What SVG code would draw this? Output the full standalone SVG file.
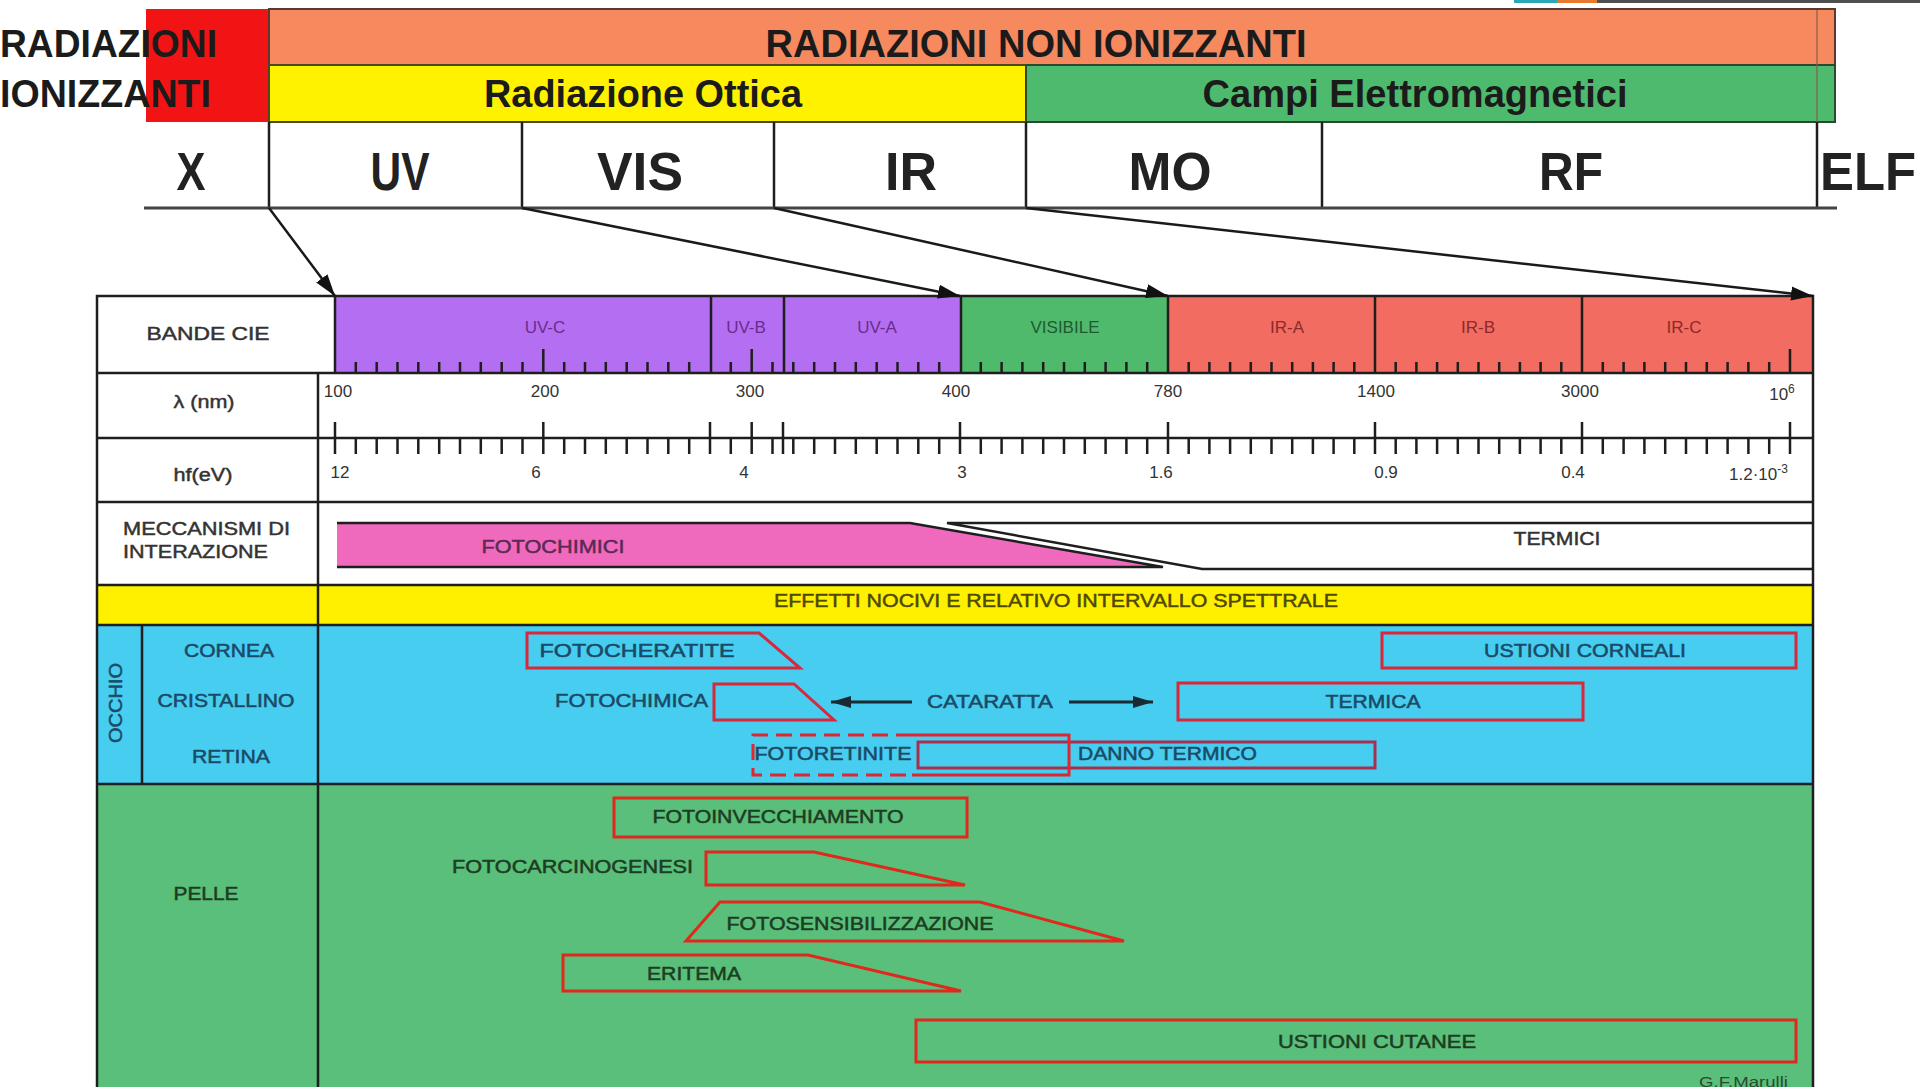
<svg xmlns="http://www.w3.org/2000/svg" width="1920" height="1087" viewBox="0 0 1920 1087">
<defs>
<style>
text{font-family:"Liberation Sans",Arial,Helvetica,sans-serif}
.big{font-weight:bold;font-size:38px;fill:#1b1b1b}
.band{font-weight:bold;font-size:54px;fill:#222}
.lb{font-size:18px;fill:#333;stroke:#333;stroke-width:0.45}
.sm{font-size:17px;fill:#333}
.bt{font-size:18px;fill:#1b4a66;stroke:#1b4a66;stroke-width:0.5}
.gt{font-size:18px;fill:#1d3d22;stroke:#1d3d22;stroke-width:0.5}
.ln{stroke:#1e1e1e;stroke-width:2.5;fill:none}
.tk{stroke:#1e1e1e;stroke-width:2.5;fill:none}
.rb{fill:none;stroke:#d8283a;stroke-width:3}
.rg{fill:none;stroke:#e0281c;stroke-width:3}
.cn{stroke:#1a1a1a;stroke-width:2.5;fill:none}
</style>
<marker id="ah" markerUnits="userSpaceOnUse" markerWidth="24" markerHeight="16" refX="22" refY="8" orient="auto">
<path d="M0,1 L22,8 L0,15 z" fill="#111"/>
</marker>
<marker id="ah2" markerUnits="userSpaceOnUse" markerWidth="22" markerHeight="14" refX="20" refY="7" orient="auto">
<path d="M0,1 L20,7 L0,13 z" fill="#1a2a33"/>
</marker>
</defs>
<rect width="1920" height="1087" fill="#fff"/>
<g id="topstrip">
<rect x="1514" y="0" width="43" height="3" fill="#2aa6b4"/>
<rect x="1557" y="0" width="40" height="3" fill="#e8782e"/>
<rect x="1597" y="0" width="323" height="3" fill="#505050"/>
</g>
<g id="ionizzanti">
<rect x="146" y="9" width="123" height="113" fill="#f21414"/>
<text class="big" x="0" y="57" textLength="217" lengthAdjust="spacingAndGlyphs" font-size="40">RADIAZIONI</text>
<text class="big" x="0" y="107" textLength="211" lengthAdjust="spacingAndGlyphs" font-size="40">IONIZZANTI</text>
</g>
<g id="non-ionizzanti">
<rect x="269" y="9" width="1566" height="56" fill="#f7895e" stroke="#5a3a30" stroke-width="2"/>
<text class="big" x="1036" y="57" text-anchor="middle" textLength="541" lengthAdjust="spacingAndGlyphs">RADIAZIONI NON IONIZZANTI</text>
</g>
<g id="ottica">
<rect x="269" y="65" width="757" height="57" fill="#fff200" stroke="#4a4a20" stroke-width="2"/>
<text class="big" x="643" y="107" text-anchor="middle" textLength="318" lengthAdjust="spacingAndGlyphs">Radiazione Ottica</text>
</g>
<g id="campi">
<rect x="1026" y="65" width="809" height="57" fill="#4dba6e" stroke="#2a4a30" stroke-width="2"/>
<text class="big" x="1415" y="107" text-anchor="middle" textLength="425" lengthAdjust="spacingAndGlyphs">Campi Elettromagnetici</text>
</g>
<g id="bands">
<line x1="1817" y1="10" x2="1817" y2="122" stroke="#8a5a4a" stroke-width="1.2"/>
<path class="ln" d="M269,122 V208 M522,122 V208 M774,122 V208 M1026,122 V208 M1322,122 V208 M1817,122 V208" stroke-width="2"/>
<line x1="144" y1="208" x2="1837" y2="208" stroke="#444" stroke-width="3"/>
<text class="band" x="191" y="190" text-anchor="middle" textLength="29" lengthAdjust="spacingAndGlyphs">X</text>
<text class="band" x="400" y="190" text-anchor="middle" textLength="59" lengthAdjust="spacingAndGlyphs">UV</text>
<text class="band" x="640" y="190" text-anchor="middle" textLength="86" lengthAdjust="spacingAndGlyphs">VIS</text>
<text class="band" x="911" y="190" text-anchor="middle" textLength="52" lengthAdjust="spacingAndGlyphs">IR</text>
<text class="band" x="1170" y="190" text-anchor="middle" textLength="83" lengthAdjust="spacingAndGlyphs">MO</text>
<text class="band" x="1571" y="190" text-anchor="middle" textLength="64" lengthAdjust="spacingAndGlyphs">RF</text>
<text class="band" x="1868" y="190" text-anchor="middle" textLength="96" lengthAdjust="spacingAndGlyphs">ELF</text>
</g>
<g id="table-bg">
<rect x="97" y="585" width="1716" height="40" fill="#fff000"/>
<rect x="97" y="625" width="1716" height="159" fill="#46cdf0"/>
<rect x="97" y="784" width="1716" height="303" fill="#5abf7a"/>
</g>
<g id="bande-cie">
<rect x="335" y="296" width="376" height="77" fill="#b46ef2"/>
<rect x="711" y="296" width="73" height="77" fill="#b46ef2"/>
<rect x="784" y="296" width="177" height="77" fill="#b46ef2"/>
<rect x="961" y="296" width="207" height="77" fill="#4fb96c"/>
<rect x="1168" y="296" width="207" height="77" fill="#f26c62"/>
<rect x="1375" y="296" width="207" height="77" fill="#f26c62"/>
<rect x="1582" y="296" width="231" height="77" fill="#f26c62"/>
<path class="ln" d="M711,296 V373 M784,296 V373 M961,296 V373 M1168,296 V373 M1375,296 V373 M1582,296 V373"/>
<path class="tk" d="M355.8,373V362 M376.7,373V362 M397.5,373V362 M418.3,373V362 M439.2,373V362 M460,373V362 M480.8,373V362 M501.7,373V362 M522.5,373V362 M543.3,373V349 M564.2,373V362 M585,373V362 M605.8,373V362 M626.7,373V362 M647.5,373V362 M668.3,373V362 M689.2,373V362 M730.8,373V362 M751.7,373V349 M772.5,373V362 M793.3,373V362 M814.2,373V362 M835,373V362 M855.8,373V362 M876.7,373V362 M897.5,373V362 M918.3,373V362 M939.2,373V362 M980.8,373V362 M1001.6,373V362 M1022.4,373V362 M1043.2,373V362 M1064,373V362 M1084.8,373V362 M1105.6,373V362 M1126.4,373V362 M1147.2,373V362 M1188.7,373V362 M1209.4,373V362 M1230.1,373V362 M1250.8,373V362 M1271.5,373V362 M1292.2,373V362 M1312.9,373V362 M1333.6,373V362 M1354.3,373V362 M1395.7,373V362 M1416.4,373V362 M1437.1,373V362 M1457.8,373V362 M1478.5,373V362 M1499.2,373V362 M1519.9,373V362 M1540.6,373V362 M1561.3,373V362 M1602.8,373V362 M1623.6,373V362 M1644.4,373V362 M1665.2,373V362 M1686,373V362 M1706.8,373V362 M1727.6,373V362 M1748.4,373V362 M1769.2,373V362 M1790,373V349"/>
<text class="sm" x="545" y="333" text-anchor="middle" style="fill:#6a2c8c">UV-C</text>
<text class="sm" x="746" y="333" text-anchor="middle" style="fill:#6a2c8c">UV-B</text>
<text class="sm" x="877" y="333" text-anchor="middle" style="fill:#6a2c8c">UV-A</text>
<text class="sm" x="1065" y="333" text-anchor="middle" style="fill:#1f5a32">VISIBILE</text>
<text class="sm" x="1287" y="333" text-anchor="middle" style="fill:#8a2a2a">IR-A</text>
<text class="sm" x="1478" y="333" text-anchor="middle" style="fill:#8a2a2a">IR-B</text>
<text class="sm" x="1684" y="333" text-anchor="middle" style="fill:#8a2a2a">IR-C</text>
</g>
<g id="grid">
<rect x="97" y="296" width="1716" height="800" class="ln"/>
<path class="ln" d="M97,373 H1813 M97,438 H1813 M97,502 H1813 M97,585 H1813 M97,625 H1813 M97,784 H1813 M335,296 V373 M318,373 V1087 M142,625 V784"/>
</g>
<g id="labels-left">
<text class="lb" x="208" y="340" text-anchor="middle" textLength="123" lengthAdjust="spacingAndGlyphs">BANDE  CIE</text>
<text class="lb" x="204" y="408" text-anchor="middle" textLength="61" lengthAdjust="spacingAndGlyphs">λ (nm)</text>
<text class="lb" x="203" y="481" text-anchor="middle" textLength="59" lengthAdjust="spacingAndGlyphs">hf(eV)</text>
<text class="lb" x="123" y="535" textLength="167" lengthAdjust="spacingAndGlyphs">MECCANISMI DI</text>
<text class="lb" x="123" y="558" textLength="145" lengthAdjust="spacingAndGlyphs">INTERAZIONE</text>
</g>
<g id="ruler">
<path class="tk" d="M335,422V454 M543.3,422V454 M710,422V454 M751.7,422V454 M783,422V454 M960,422V454 M1168,422V454 M1375,422V454 M1582,422V454 M1790,422V454"/>
<path class="tk" d="M355.8,438V454 M376.7,438V454 M397.5,438V454 M418.3,438V454 M439.2,438V454 M460,438V454 M480.8,438V454 M501.7,438V454 M522.5,438V454 M564.2,438V454 M585,438V454 M605.8,438V454 M626.7,438V454 M647.5,438V454 M668.3,438V454 M689.2,438V454 M730.8,438V454 M772.5,438V454 M793.3,438V454 M814.2,438V454 M835,438V454 M855.8,438V454 M876.7,438V454 M897.5,438V454 M918.3,438V454 M939.2,438V454 M980.8,438V454 M1001.6,438V454 M1022.4,438V454 M1043.2,438V454 M1064,438V454 M1084.8,438V454 M1105.6,438V454 M1126.4,438V454 M1147.2,438V454 M1188.7,438V454 M1209.4,438V454 M1230.1,438V454 M1250.8,438V454 M1271.5,438V454 M1292.2,438V454 M1312.9,438V454 M1333.6,438V454 M1354.3,438V454 M1395.7,438V454 M1416.4,438V454 M1437.1,438V454 M1457.8,438V454 M1478.5,438V454 M1499.2,438V454 M1519.9,438V454 M1540.6,438V454 M1561.3,438V454 M1602.8,438V454 M1623.6,438V454 M1644.4,438V454 M1665.2,438V454 M1686,438V454 M1706.8,438V454 M1727.6,438V454 M1748.4,438V454 M1769.2,438V454"/>
<text class="sm" x="338" y="397" text-anchor="middle">100</text>
<text class="sm" x="545" y="397" text-anchor="middle">200</text>
<text class="sm" x="750" y="397" text-anchor="middle">300</text>
<text class="sm" x="956" y="397" text-anchor="middle">400</text>
<text class="sm" x="1168" y="397" text-anchor="middle">780</text>
<text class="sm" x="1376" y="397" text-anchor="middle">1400</text>
<text class="sm" x="1580" y="397" text-anchor="middle">3000</text>
<text class="sm" x="1782" y="400" text-anchor="middle">10<tspan font-size="12" dy="-7">6</tspan></text>
<text class="sm" x="340" y="478" text-anchor="middle">12</text>
<text class="sm" x="536" y="478" text-anchor="middle">6</text>
<text class="sm" x="744" y="478" text-anchor="middle">4</text>
<text class="sm" x="962" y="478" text-anchor="middle">3</text>
<text class="sm" x="1161" y="478" text-anchor="middle">1.6</text>
<text class="sm" x="1386" y="478" text-anchor="middle">0.9</text>
<text class="sm" x="1573" y="478" text-anchor="middle">0.4</text>
<text class="sm" x="1729" y="480">1.2·10<tspan font-size="12" dy="-7">-3</tspan></text>
</g>
<g id="fotochimici">
<polygon points="337,523 910,523 1163,567 337,567" fill="#ef69bd"/>
<polyline points="337,523 910,523 1163,567 337,567" class="ln" stroke-width="3"/>
<text class="lb" x="553" y="553" text-anchor="middle" textLength="143" lengthAdjust="spacingAndGlyphs" style="fill:#5a2a55;stroke:#5a2a55">FOTOCHIMICI</text>
</g>
<g id="termici">
<polyline points="1813,523 947,523 1202,569 1813,569" class="ln" stroke-width="3"/>
<text class="lb" x="1557" y="545" text-anchor="middle" textLength="87" lengthAdjust="spacingAndGlyphs">TERMICI</text>
</g>
<g id="effetti">
<text class="lb" x="1056" y="607" text-anchor="middle" textLength="564" lengthAdjust="spacingAndGlyphs" style="fill:#4e4800;stroke:#4e4800">EFFETTI NOCIVI E RELATIVO INTERVALLO SPETTRALE</text>
</g>
<g id="occhio">
<text class="bt" transform="translate(122,703) rotate(-90)" text-anchor="middle" textLength="80" lengthAdjust="spacingAndGlyphs" font-size="17">OCCHIO</text>
<text class="bt" x="229" y="657" text-anchor="middle" textLength="90" lengthAdjust="spacingAndGlyphs">CORNEA</text>
<text class="bt" x="226" y="707" text-anchor="middle" textLength="137" lengthAdjust="spacingAndGlyphs">CRISTALLINO</text>
<text class="bt" x="231" y="763" text-anchor="middle" textLength="78" lengthAdjust="spacingAndGlyphs">RETINA</text>
</g>
<g id="fotocheratite">
<polygon points="527,633 759,633 800,668 527,668" class="rb"/>
<text class="bt" x="637" y="657" text-anchor="middle" textLength="195" lengthAdjust="spacingAndGlyphs">FOTOCHERATITE</text>
</g>
<g id="ustioni-corneali">
<rect x="1382" y="633" width="414" height="35" class="rb"/>
<text class="bt" x="1585" y="657" text-anchor="middle" textLength="202" lengthAdjust="spacingAndGlyphs">USTIONI CORNEALI</text>
</g>
<g id="fotochimica">
<polygon points="714,684 794,684 834,720 714,720" class="rb"/>
<text class="bt" x="708" y="707" text-anchor="end" textLength="153" lengthAdjust="spacingAndGlyphs">FOTOCHIMICA</text>
</g>
<g id="cataratta">
<text class="bt" x="990" y="708" text-anchor="middle" textLength="126" lengthAdjust="spacingAndGlyphs">CATARATTA</text>
</g>
<g id="termica">
<rect x="1178" y="683" width="405" height="37" class="rb"/>
<text class="bt" x="1373" y="708" text-anchor="middle" textLength="95" lengthAdjust="spacingAndGlyphs">TERMICA</text>
</g>
<g id="danno-termico">
<rect x="918" y="742" width="457" height="26" fill="none" stroke="#a8304e" stroke-width="3"/>
<text class="bt" x="1078" y="760" textLength="179" lengthAdjust="spacingAndGlyphs">DANNO TERMICO</text>
</g>
<g id="fotoretinite">
<path d="M912,735 H753 V775 H912" fill="none" stroke="#e0262e" stroke-width="3" stroke-dasharray="16,8"/>
<path d="M912,735 H1069 V775 H912" fill="none" stroke="#e0262e" stroke-width="3"/>
<text class="bt" x="833" y="760" text-anchor="middle" textLength="157" lengthAdjust="spacingAndGlyphs">FOTORETINITE</text>
</g>
<g id="pelle">
<text class="gt" x="206" y="900" text-anchor="middle" textLength="65" lengthAdjust="spacingAndGlyphs">PELLE</text>
</g>
<g id="fotoinvecchiamento">
<rect x="614" y="798" width="353" height="39" class="rg"/>
<text class="gt" x="778" y="823" text-anchor="middle" textLength="251" lengthAdjust="spacingAndGlyphs">FOTOINVECCHIAMENTO</text>
</g>
<g id="fotocarcinogenesi">
<polygon points="706,852 814,852 965,885 706,885" class="rg"/>
<text class="gt" x="693" y="873" text-anchor="end" textLength="241" lengthAdjust="spacingAndGlyphs">FOTOCARCINOGENESI</text>
</g>
<g id="fotosensibilizzazione">
<polygon points="686,941 720,902 980,902 1124,941" class="rg"/>
<text class="gt" x="860" y="930" text-anchor="middle" textLength="267" lengthAdjust="spacingAndGlyphs">FOTOSENSIBILIZZAZIONE</text>
</g>
<g id="eritema">
<polygon points="563,955 808,955 961,991 563,991" class="rg"/>
<text class="gt" x="694" y="980" text-anchor="middle" textLength="94" lengthAdjust="spacingAndGlyphs">ERITEMA</text>
</g>
<g id="ustioni-cutanee">
<rect x="916" y="1020" width="880" height="42" class="rg"/>
<text class="gt" x="1377" y="1048" text-anchor="middle" textLength="198" lengthAdjust="spacingAndGlyphs">USTIONI CUTANEE</text>
</g>
<g id="credit">
<text x="1699" y="1087" font-size="14" fill="#2a4a30" textLength="89" lengthAdjust="spacingAndGlyphs">G.F.Marulli</text>
</g>
<g id="connectors">
<line class="cn" x1="269" y1="208" x2="335" y2="296" marker-end="url(#ah)"/>
<line class="cn" x1="522" y1="208" x2="960" y2="296" marker-end="url(#ah)"/>
<line class="cn" x1="774" y1="208" x2="1168" y2="296" marker-end="url(#ah)"/>
<line class="cn" x1="1026" y1="208" x2="1813" y2="296" marker-end="url(#ah)"/>
<line x1="912" y1="702" x2="831" y2="702" stroke="#1a2a33" stroke-width="3" marker-end="url(#ah2)"/>
<line x1="1069" y1="702" x2="1153" y2="702" stroke="#1a2a33" stroke-width="3" marker-end="url(#ah2)"/>
</g>
</svg>
